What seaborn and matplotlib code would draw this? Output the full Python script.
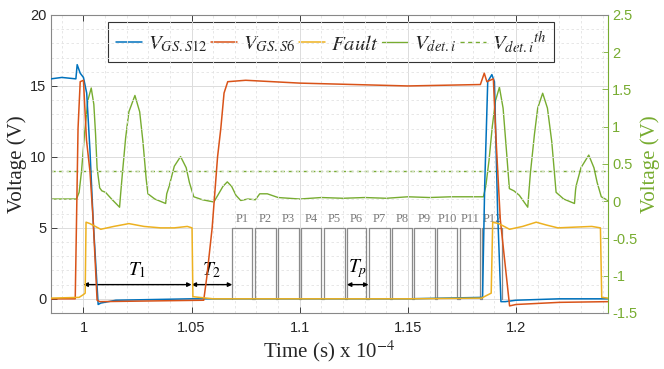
import numpy as np
import pandas as pd
import matplotlib
matplotlib.use("Agg")
import matplotlib.pyplot as plt
from matplotlib.ticker import MultipleLocator, FormatStrFormatter
import seaborn as sns

# ---------------- data (time in units of 1e-4 s) ----------------
t_s12 = [0.985, 0.990, 0.9965, 0.9971, 0.9985, 1.0, 1.0015, 1.003, 1.0045, 1.0068, 1.008,
         1.015, 1.05, 1.10, 1.15, 1.1845, 1.1855, 1.1869, 1.1888, 1.19, 1.1915, 1.193,
         1.195, 1.20, 1.22, 1.2425]
v_s12 = [15.5, 15.6, 15.5, 16.5, 15.9, 15.6, 14.5, 10.5, 5.5, -0.4, -0.3,
         -0.1, 0.0, 0.0, 0.0, 0.1, 8.0, 15.3, 15.8, 15.3, 6.0, -0.2,
         -0.2, -0.1, 0.0, 0.0]

t_s6 = [0.985, 0.9962, 0.9975, 0.9985, 1.0, 1.0008, 1.0014, 1.003, 1.0045, 1.0063, 1.0075,
        1.0556, 1.057, 1.0595, 1.062, 1.0635, 1.065, 1.0667, 1.075, 1.10, 1.15, 1.1835,
        1.1853, 1.1865, 1.1895, 1.1905, 1.191, 1.1927, 1.197, 1.20, 1.22, 1.2425]
v_s6 = [0.0, 0.0, 12.0, 15.3, 15.4, 13.0, 11.2, 9.0, 5.5, -0.1, -0.2,
        -0.1, 1.5, 5.0, 10.0, 12.0, 14.5, 15.3, 15.4, 15.2, 15.0, 15.1,
        15.9, 15.3, 15.5, 12.0, 10.5, 5.6, -0.5, -0.4, -0.25, -0.2]

t_fault = [0.985, 0.998, 1.0, 1.0008, 1.0012, 1.003, 1.008, 1.014, 1.021, 1.028, 1.0356,
           1.042, 1.048, 1.0502, 1.0506, 1.06, 1.10, 1.15, 1.184, 1.1885, 1.1892, 1.192,
           1.197, 1.203, 1.2093, 1.214, 1.2193, 1.227, 1.235, 1.2390, 1.2396, 1.2425]
v_fault = [0.05, 0.1, 0.3, 0.4, 5.4, 5.3, 4.9, 5.1, 5.3, 5.1, 5.0,
           5.0, 5.1, 5.0, 0.15, 0.0, 0.0, 0.0, 0.05, 0.4, 5.4, 5.3,
           4.9, 5.1, 5.4, 5.2, 5.0, 5.05, 5.1, 5.0, 0.1, 0.05]

t_det = [0.985, 0.9968, 0.998, 0.9991, 1.0005, 1.002, 1.0036, 1.0048, 1.0056, 1.0063, 1.0075,
         1.0085, 1.0102, 1.013, 1.0167, 1.0172, 1.018, 1.0195, 1.021, 1.0238, 1.026, 1.0275,
         1.029, 1.0298, 1.033, 1.038, 1.0385, 1.0395, 1.042, 1.0449, 1.0475, 1.049, 1.051,
         1.055, 1.0603, 1.0625, 1.0645, 1.0665, 1.0685, 1.0705, 1.0727, 1.076, 1.0795, 1.0815,
         1.085, 1.09, 1.10, 1.11, 1.12, 1.13, 1.14, 1.15, 1.16, 1.17, 1.1849,
         1.186, 1.1875, 1.189, 1.1905, 1.1923, 1.194, 1.1955, 1.1969, 1.199, 1.2015, 1.2054,
         1.206, 1.2066, 1.2085, 1.21, 1.2123, 1.2145, 1.2165, 1.2185, 1.222, 1.227, 1.2275,
         1.2278, 1.23, 1.2336, 1.236, 1.2375, 1.2394, 1.2425]
v_det = [0.03, 0.03, 0.12, 0.4, 0.9, 1.35, 1.52, 1.3, 0.9, 0.45, 0.18,
         0.14, 0.12, 0.03, -0.08, 0.1, 0.37, 0.85, 1.2, 1.42, 1.2, 0.8,
         0.3, 0.1, 0.03, -0.03, 0.1, 0.19, 0.47, 0.6, 0.45, 0.25, 0.06,
         0.02, -0.01, 0.1, 0.2, 0.26, 0.2, 0.08, 0.01, 0.03, 0.02, 0.1,
         0.1, 0.05, 0.03, 0.05, 0.04, 0.05, 0.04, 0.06, 0.05, 0.06, 0.06,
         0.2, 0.55, 1.0, 1.35, 1.53, 1.25, 0.7, 0.17, 0.14, 0.08, -0.08,
         0.15, 0.37, 0.9, 1.25, 1.45, 1.25, 0.8, 0.12, 0.03, -0.03, 0.15,
         0.21, 0.45, 0.62, 0.45, 0.25, 0.06, 0.01]

v_det_th = 0.4

pulse_labels = ["P1", "P2", "P3", "P4", "P5", "P6", "P7", "P8", "P9", "P10", "P11", "P12"]
pulse_start = [1.0688, 1.0792, 1.0900, 1.1005, 1.1110, 1.1218, 1.1318, 1.1426, 1.1530, 1.1634, 1.1739, 1.1843]
pulse_end = [1.0781, 1.0889, 1.0997, 1.1100, 1.1210, 1.1307, 1.1415, 1.1519, 1.1624, 1.1728, 1.1832, 1.1935]
pulse_high = 5.0

# interval annotations: (start, end, label)
intervals = [(1.0, 1.05, r"$T_1$"), (1.05, 1.0688, r"$T_2$"), (1.1218, 1.1318, r"$T_p$")]

x_ticks = [1.0, 1.05, 1.1, 1.15, 1.2]
x_ticklabels = ["1", "1.05", "1.1", "1.15", "1.2"]
y_left_ticks = [0, 5, 10, 15, 20]
y_right_ticks = [-1.5, -1, -0.5, 0, 0.5, 1, 1.5, 2, 2.5]

# ---------------- style ----------------
sns.set_theme(style="ticks")
plt.rcParams["font.family"] = ["Liberation Sans", "DejaVu Sans"]
plt.rcParams["mathtext.fontset"] = "stix"
plt.rcParams["axes.unicode_minus"] = False

C_BLUE = "#0072BD"
C_ORANGE = "#D95319"
C_YELLOW = "#EDB120"
C_GREEN = "#77AC30"
C_GRAY = "#8a8a8a"

fig = plt.figure(figsize=(6.64, 3.69), dpi=100)
ax = fig.add_axes([51 / 664, 1 - 313 / 369, 557 / 664, 298 / 369])
ax2 = ax.twinx()

# pulse train (gray)
pt, pv = [], []
for s, e in zip(pulse_start, pulse_end):
    pt += [s, s, e, e]
    pv += [0, pulse_high, pulse_high, 0]
ax.plot(pt, pv, color=C_GRAY, lw=0.9, zorder=2)
for s, e, lab in zip(pulse_start, pulse_end, pulse_labels):
    ax.text((s + e) / 2, pulse_high + 0.2, lab, ha="center", va="bottom",
            fontsize=9, color="#7a7a7a", family="Liberation Serif")

lw = 1.1
sns.lineplot(x=t_s12, y=v_s12, ax=ax, color=C_BLUE, lw=lw, sort=False, estimator=None,
             label=r"$V_{GS.S12}$", legend=False, zorder=4)
sns.lineplot(x=t_s6, y=v_s6, ax=ax, color=C_ORANGE, lw=lw, sort=False, estimator=None,
             label=r"$V_{GS.S6}$", legend=False, zorder=4)
sns.lineplot(x=t_fault, y=v_fault, ax=ax, color=C_YELLOW, lw=lw, sort=False, estimator=None,
             label=r"$Fault$", legend=False, zorder=4)

sns.lineplot(x=t_det, y=v_det, ax=ax2, color=C_GREEN, lw=1.0, sort=False, estimator=None,
             label=r"$V_{det.i}$", legend=False)
ax2.axhline(v_det_th, color=C_GREEN, lw=1.0, ls=(0, (3, 2.5)), label=r"$V_{det.i}{}^{th}$")

# interval arrows
for s, e, lab in intervals:
    ax.annotate("", xy=(s, 1.0), xytext=(e, 1.0),
                arrowprops=dict(arrowstyle="<|-|>", color="black", lw=1.0,
                                mutation_scale=6, shrinkA=0, shrinkB=0))
    ax.text((s + e) / 2, 1.35, lab, ha="center", va="bottom", fontsize=14, color="black")

# axes limits & ticks
ax.set_xlim(0.985, 1.2425)
ax.set_ylim(-1, 20)
ax2.set_ylim(-1.5, 2.5)
ax.set_xticks(x_ticks)
ax.set_xticklabels(x_ticklabels)
ax.set_yticks(y_left_ticks)
ax2.set_yticks(y_right_ticks)
ax2.yaxis.set_major_formatter(FormatStrFormatter("%g"))
ax.xaxis.set_minor_locator(MultipleLocator(0.01))
ax.yaxis.set_minor_locator(MultipleLocator(1))

ax.grid(True, which="major", color="#dcdcdc", lw=0.7)
ax.grid(True, which="minor", color="#e3e3e3", lw=0.6, ls=(0, (3, 3)))
ax.set_axisbelow(True)

ax.tick_params(axis="both", which="major", direction="in", length=4, labelsize=10.5,
               colors="#262626", top=True, right=False, width=0.6)
ax.tick_params(axis="both", which="minor", length=0)
ax.tick_params(axis="x", pad=6)
ax2.tick_params(axis="y", direction="in", length=4, labelsize=10.5, colors=C_GREEN, width=0.6,
                pad=3)

for sp in ["left", "top", "bottom"]:
    ax.spines[sp].set_color("#888888")
    ax.spines[sp].set_linewidth(0.8)
ax2.spines["right"].set_color(C_GREEN)
ax2.spines["right"].set_linewidth(0.8)
ax.spines["right"].set_visible(False)
for sp in ["left", "top", "bottom"]:
    ax2.spines[sp].set_visible(False)

ax.set_xlabel(r"Time (s) x 10$^{-4}$", family="Liberation Serif", fontsize=15, labelpad=2,
              color="#262626")
ax.set_ylabel("Voltage (V)", family="Liberation Serif", fontsize=15, labelpad=2, color="#262626")
ax2.set_ylabel("Voltage (V)", family="Liberation Serif", fontsize=15, labelpad=2, color=C_GREEN)

# legend
h1, l1 = ax.get_legend_handles_labels()
h2, l2 = ax2.get_legend_handles_labels()
leg = ax2.legend(h1 + h2, l1 + l2, loc="upper center", bbox_to_anchor=(0.503, 0.977), ncol=5,
                 fontsize=15, frameon=True, fancybox=False, edgecolor="#333333",
                 handlelength=1.25, handletextpad=0.3, columnspacing=0.15,
                 borderpad=0.35, borderaxespad=0.0, framealpha=1)
leg.get_frame().set_linewidth(0.8)

ax.set_zorder(ax2.get_zorder() + 1)
ax.patch.set_visible(False)

fig.savefig("out.png", dpi=100)
